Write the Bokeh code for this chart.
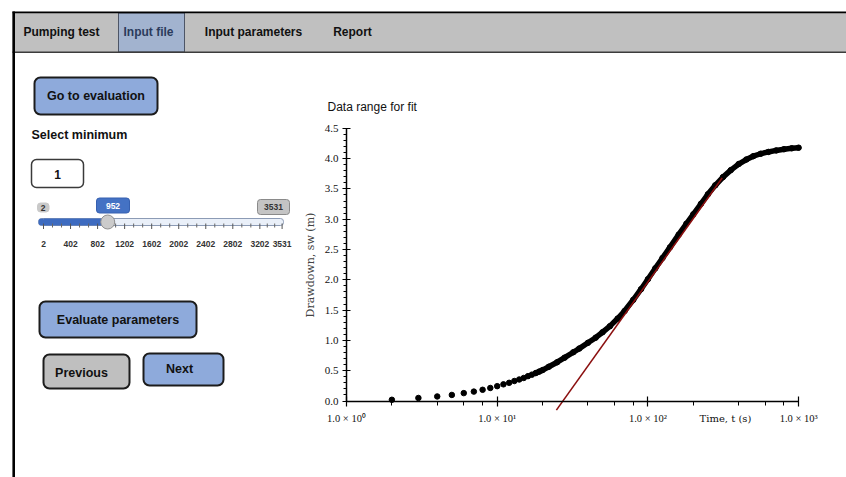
from bokeh.plotting import figure
from bokeh.models import (Range1d, LogScale, LogAxis, LinearAxis, LogTicker,
                          SingleIntervalTicker, PrintfTickFormatter, Label)
from bokeh.core.properties import value
from bokeh.embed import file_html
from bokeh.resources import INLINE

# ---------------- chart data ----------------
time_s = [2, 3, 4, 5, 6, 7, 8, 9, 10, 11, 12, 13, 14, 15, 16, 17, 18, 19,
          20, 22, 25, 28, 32, 35, 40, 45, 50, 56, 63, 70, 80, 90, 100, 112, 125, 140,
          160, 180, 200, 225, 250, 280, 315, 355, 400, 450, 500, 560, 630, 710, 800, 900, 1000]
drawdown_m = [0.02, 0.05, 0.075, 0.10, 0.13, 0.155, 0.185, 0.215, 0.245, 0.275, 0.30, 0.33,
              0.355, 0.38, 0.41, 0.435, 0.46, 0.485,
              0.51, 0.565, 0.64, 0.715, 0.805, 0.865, 0.96, 1.045, 1.135, 1.235, 1.36, 1.485,
              1.67, 1.845, 2.01, 2.19, 2.36, 2.535, 2.745, 2.925, 3.08, 3.255, 3.41, 3.56,
              3.695, 3.81, 3.91, 3.985, 4.04, 4.08, 4.11, 4.135, 4.155, 4.17, 4.18]
fit_time_s = [24.7, 311.0]
fit_drawdown_m = [-0.15, 3.68]
x_tick_values = [1, 10, 100, 1000]
x_tick_labels = ["1.0 × 10⁰", "1.0 × 10¹", "1.0 × 10²", "1.0 × 10³"]
y_axis_bounds = (0.0, 4.5)
y_tick_step = 0.5
chart_title = "Data range for fit"
x_axis_title = "Time, t (s)"
y_axis_title = "Drawdown, sᴡ (m)"

# ---------------- UI content ----------------
tab_names = ["Pumping test", "Input file", "Input parameters", "Report"]
active_tab = "Input file"
slider_min = 2
slider_max = 3531
slider_value = 952
slider_tick_labels = [2, 402, 802, 1202, 1602, 2002, 2402, 2802, 3202, 3531]
min_input_value = "1"
button_labels = ["Go to evaluation", "Evaluate parameters", "Previous", "Next"]
select_label = "Select minimum"

# ---------------- page geometry (pixels) ----------------
W, H, M = 846, 477, 0
SANS = value("Liberation Sans")

p = figure(width=W, height=H, x_range=Range1d(M, M + W), y_range=Range1d(M + H, M),
           x_axis_type=None, y_axis_type=None, toolbar_location=None,
           output_backend="svg", min_border=0)
p.outline_line_color = None
p.background_fill_color = "white"
p.border_fill_color = "white"

# chart placement: pixel of t=1, pixels per decade, pixel of s=0, pixels per metre
T_PX, T_DEC = 346.0, 150.7
S_PX, S_UNIT = 400.5, 60.6
# slider placement: pixel of slider_min and slider_max
SL_PX0, SL_PX1 = 43.0, 281.6
k = (SL_PX1 - SL_PX0) / (slider_max - slider_min)

p.extra_x_ranges = {
    "t": Range1d(10 ** ((M - T_PX) / T_DEC), 10 ** ((M + W - T_PX) / T_DEC)),
    "sl": Range1d(slider_min + (M - SL_PX0) / k, slider_min + (M + W - SL_PX0) / k),
}
p.extra_x_scales = {"t": LogScale()}
p.extra_y_ranges = {"s": Range1d((S_PX - (M + H)) / S_UNIT, (S_PX - M) / S_UNIT)}

# ---------------- top tab bar ----------------
p.quad(left=[12], right=[M + W], top=[12.5], bottom=[51.5], fill_color="#c0c0c0", line_color=None)
ai = tab_names.index(active_tab)
tab_cx = [61, 148, 253, 352]
p.quad(left=[118], right=[184], top=[12.5], bottom=[51.5], fill_color="#a2b3cf",
       line_color="#4d5566", line_width=1)
p.segment(x0=[12, 12], y0=[11.8, 51.8], x1=[M + W, M + W], y1=[11.8, 51.8],
          line_color=["#000000", "#3c3c3c"], line_width=[1.8, 1.6])
p.segment(x0=[13.2], y0=[11], x1=[13.2], y1=[M + H], line_color="#000000", line_width=2.6)
p.text(x=tab_cx, y=[31.5] * 4, text=tab_names, text_align="center", text_baseline="middle",
       text_font=SANS, text_font_style="bold", text_font_size="12px",
       text_color=["#2b3b5c" if i == ai else "#111111" for i in range(4)])

# ---------------- buttons ----------------
btn_box = [(34, 157, 77, 114), (39, 196, 301, 337), (43, 129, 354, 388), (143, 223, 353, 385)]
btn_fill = ["#8eaadb", "#8eaadb", "#bfbfbf", "#8eaadb"]
btn_text_xy = [(95.5, 95.5), (117.5, 319), (81, 372), (179, 368)]
p.quad(left=[b[0] for b in btn_box], right=[b[1] for b in btn_box],
       top=[b[2] for b in btn_box], bottom=[b[3] for b in btn_box],
       fill_color=btn_fill, line_color="#1c1c1c", line_width=2, border_radius=6)
p.text(x=[t[0] for t in btn_text_xy], y=[t[1] for t in btn_text_xy], text=button_labels,
       text_align="center", text_baseline="middle", text_font=SANS, text_font_style="bold",
       text_font_size="12.5px", text_color="#111111")

# ---------------- select minimum + input ----------------
p.text(x=[31], y=[134], text=[select_label], text_align="left", text_baseline="middle",
       text_font=SANS, text_font_style="bold", text_font_size="12.5px", text_color="#111111")
p.quad(left=[31], right=[83], top=[159], bottom=[187], fill_color="white",
       line_color="#3a3a3a", line_width=1.5, border_radius=5)
p.text(x=[57], y=[173.5], text=[min_input_value], text_align="center", text_baseline="middle",
       text_font=SANS, text_font_style="bold", text_font_size="12px", text_color="#111111")

# ---------------- slider ----------------
p.quad(left=[38], right=[283], top=[218], bottom=[225], fill_color="#eaf0f9",
       line_color="#8c9bb5", line_width=1, border_radius=3)
p.quad(left=[38], right=[44], top=[218], bottom=[225], fill_color="#3d6bc0",
       line_color=None, border_radius=3)
p.quad(left=[slider_min], right=[slider_value], top=[218], bottom=[225], fill_color="#3d6bc0",
       line_color=None, x_range_name="sl")
small_ticks = []
for a, b in zip(slider_tick_labels[:-1], slider_tick_labels[1:]):
    small_ticks += [a + (b - a) / 3.0, a + 2 * (b - a) / 3.0]
p.segment(x0=slider_tick_labels, y0=[223] * len(slider_tick_labels),
          x1=slider_tick_labels, y1=[228.5] * len(slider_tick_labels),
          line_color="#555555", line_width=1, x_range_name="sl")
p.segment(x0=small_ticks, y0=[223] * len(small_ticks), x1=small_ticks, y1=[227] * len(small_ticks),
          line_color="#666666", line_width=1, x_range_name="sl")
p.text(x=slider_tick_labels, y=[243.5] * len(slider_tick_labels),
       text=[str(v) for v in slider_tick_labels], x_range_name="sl",
       text_align="center", text_baseline="middle", text_font=SANS, text_font_style="bold",
       text_font_size="8.5px", text_color="#333333")
p.scatter(x=[slider_value], y=[221.5], x_range_name="sl", size=14, marker="circle",
          fill_color="#cbcbcb", line_color="#8f8f8f", line_width=1)
# value boxes
vb = [(37, 48.5, 202.5, 211.5), (96, 129, 197.5, 212.5), (257, 289, 199, 214)]
p.quad(left=[b[0] for b in vb], right=[b[1] for b in vb], top=[b[2] for b in vb],
       bottom=[b[3] for b in vb], fill_color=["#c9c9c9", "#4472c4", "#c4c4c4"],
       line_color=["#c9c9c9", "#3660b0", "#8a8a8a"], line_width=1, border_radius=3)
p.text(x=[42.7, 112.5, 273], y=[207.2, 205.2, 206.7],
       text=[str(slider_min), str(slider_value), str(slider_max)],
       text_align="center", text_baseline="middle", text_font=SANS, text_font_style="bold",
       text_font_size="8.5px", text_color=["#333333", "white", "#333333"])

# ---------------- chart ----------------
dense_t = [t for t in time_s if t >= 18]
dense_s = [s for t, s in zip(time_s, drawdown_m) if t >= 18]
p.line(dense_t, dense_s, x_range_name="t", y_range_name="s", line_color="black",
       line_width=5.5, line_join="round", line_cap="round")
p.scatter(time_s, drawdown_m, x_range_name="t", y_range_name="s", size=5.5,
          marker="circle", color="black")
p.line(fit_time_s, fit_drawdown_m, x_range_name="t", y_range_name="s",
       line_color="#8b0f0f", line_width=1.6)

xaxis = LogAxis(x_range_name="t", y_range_name="s", fixed_location=0,
                bounds=(x_tick_values[0], x_tick_values[-1]), ticker=LogTicker())
xaxis.major_label_overrides = dict(zip(x_tick_values, x_tick_labels))
xaxis.major_tick_in = 5
xaxis.major_tick_out = 5
xaxis.minor_tick_in = 0
xaxis.minor_tick_out = 4
xaxis.axis_line_width = 1.3
xaxis.major_tick_line_width = 1.2
xaxis.major_label_standoff = 7
xaxis.major_label_text_font = "Liberation Serif"
xaxis.major_label_text_font_size = "10.5px"
xaxis.major_label_text_color = "#111111"
p.add_layout(xaxis, "below")

yaxis = LinearAxis(x_range_name="t", y_range_name="s", fixed_location=1, bounds=y_axis_bounds,
                   ticker=SingleIntervalTicker(interval=y_tick_step, num_minor_ticks=5),
                   formatter=PrintfTickFormatter(format="%.1f"))
yaxis.major_tick_in = 4
yaxis.major_tick_out = 4
yaxis.minor_tick_in = 0
yaxis.minor_tick_out = 3
yaxis.axis_line_width = 1.5
yaxis.major_tick_line_width = 1.2
yaxis.major_label_standoff = 4
yaxis.major_label_text_font = "Liberation Serif"
yaxis.major_label_text_font_size = "11px"
yaxis.major_label_text_color = "#111111"
yaxis.axis_label = y_axis_title
yaxis.axis_label_text_font = "DejaVu Serif"
yaxis.axis_label_text_font_style = "normal"
yaxis.axis_label_text_font_size = "11px"
yaxis.axis_label_standoff = 5
p.add_layout(yaxis, "left")

p.add_layout(Label(x=327, y=106, text=chart_title, text_baseline="middle",
                   text_font="Liberation Sans", text_font_size="12px", text_color="#111111"))
p.add_layout(Label(x=327, y=-0.29, x_range_name="t", y_range_name="s", text=x_axis_title,
                   text_align="center", text_baseline="middle", text_font="DejaVu Serif",
                   text_font_size="10px", text_color="#111111"))

open("out.html", "w").write(file_html(p, INLINE))
